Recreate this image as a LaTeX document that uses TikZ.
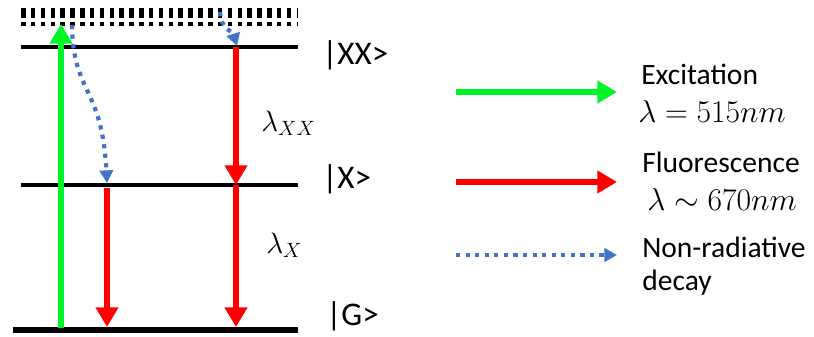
\RequirePackage{fix-cm}
\documentclass[tikz,border=0pt]{standalone}
\usepackage{fontspec}
\setmainfont{Carlito}
\usepackage{tikz}
\usetikzlibrary{arrows.meta}
\definecolor{excgreen}{RGB}{0,245,40}
\definecolor{fluored}{RGB}{255,0,0}
\definecolor{decblue}{RGB}{68,114,196}

\begin{document}
\begin{tikzpicture}[x=0.025cm, y=-0.025cm,
    level/.style={line width=3.5pt},
    excite/.style={excgreen, line width=4.8pt, -{Triangle[length=14pt,width=15.5pt]}},
    fluor/.style={fluored, line width=4.8pt, -{Triangle[length=14pt,width=15.5pt]}},
    nonrad/.style={decblue, line width=3pt, dash pattern=on 3pt off 3.8pt, -{Triangle[length=9pt,width=9.5pt]}},
    statelbl/.style={anchor=west, inner sep=0pt, font=\fontsize{23.5}{26}\selectfont},
    legtxt/.style={anchor=west, inner sep=0pt, font=\fontsize{21}{24}\selectfont},
    wavelbl/.style={anchor=west, inner sep=0pt, font=\fontsize{22.5}{26}\selectfont}]
    \useasboundingbox (0,0) rectangle (814,336);

    % Continuum
    \draw[line width=7.5pt, dash pattern=on 3.2pt off 3.8pt] (21,13) -- (297,13);
    \draw[line width=2.8pt, dash pattern=on 3.2pt off 3.8pt] (21,24) -- (297,24);

    % Levels
    \draw[level] (21,47) -- (298,47);
    \draw[level] (21,185) -- (298,185);
    \draw[line width=4.5pt] (13,330) -- (298,330);

    % Points on the levels
    \coordinate (g-exc) at (61,328);
    \coordinate (top-exc) at (61,24);
    \coordinate (xx-a) at (236,47);
    \coordinate (x-a) at (236,185);
    \coordinate (g-a) at (236,327);
    \coordinate (x-b) at (107,188);
    \coordinate (g-b) at (107,327);
    \coordinate (top-b) at (72,25);
    \coordinate (x-btip) at (107,183);
    \coordinate (top-a) at (220,12);
    \coordinate (xx-atip) at (237,46);

    % Excitation
    \draw[excite] (g-exc) -- (top-exc);

    % Fluorescence
    \draw[fluor] (xx-a) -- (x-a);
    \draw[fluor] (x-a) -- (g-a);
    \draw[fluor] (x-b) -- (g-b);

    % Non-radiative decay
    \draw[nonrad] (top-b) .. controls (73,95) and (102,85) .. (x-btip);
    \draw[nonrad] (top-a) .. controls (221,30) and (232,30) .. (xx-atip);

    % State labels
    \node[statelbl] (xx-lbl) at (322,55) {|XX>};
    \node[statelbl] (x-lbl) at (322,179) {|X>};
    \node[statelbl] (g-lbl) at (326,316) {|G>};
    \node[font=\fontsize{21}{24}\selectfont, anchor=west, inner sep=0pt] (lam-xx) at (261,123) {$\lambda_{XX}$};
    \node[font=\fontsize{21}{24}\selectfont, anchor=west, inner sep=0pt] (lam-x) at (266,245) {$\lambda_{X}$};

    % Legend
    \coordinate (leg-exc-s) at (456,92);
    \coordinate (leg-exc-e) at (617,92);
    \coordinate (leg-flu-s) at (456,182);
    \coordinate (leg-flu-e) at (617,182);
    \coordinate (leg-dec-s) at (456,255);
    \coordinate (leg-dec-e) at (617,255);
    \draw[excite] (leg-exc-s) -- (leg-exc-e);
    \draw[fluor] (leg-flu-s) -- (leg-flu-e);
    \draw[nonrad] (leg-dec-s) -- (leg-dec-e);

    \node[legtxt] (exc-txt) at (641,74) {Excitation};
    \node[wavelbl] (exc-lam) at (638,112) {$\lambda = 515nm$};
    \node[legtxt] (flu-txt) at (642,162) {Fluorescence};
    \node[wavelbl] (flu-lam) at (647,200) {$\lambda \sim 670nm$};
    \node[legtxt] (dec-txt) at (642,247) {Non-radiative};
    \node[legtxt] (dec-txt2) at (642,283) {decay};
\end{tikzpicture}
\end{document}
